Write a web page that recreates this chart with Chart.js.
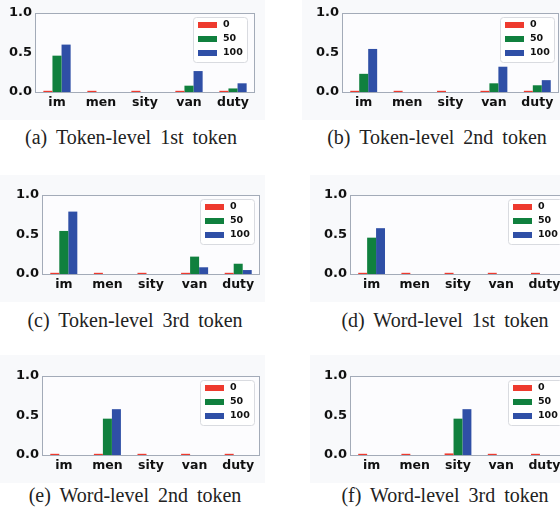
<!DOCTYPE html>
<html lang="en">
<head>
    <meta charset="UTF-8">
    <title>Token / word level bars</title>
    <script src="https://cdn.jsdelivr.net/npm/chart.js"></script>
    <style>
        body { margin: 0; width: 560px; height: 514px; overflow: hidden; background: #fff; position: relative; }
        .panel { position: absolute; background: #f8f9fb; }
        canvas { position: absolute; }
        .cap { position: absolute; font-family: "Liberation Serif", "Times New Roman", serif; font-size: 20px;
               color: #222; white-space: nowrap; transform: translate(-50%, -50%); word-spacing: 4px; }
    </style>
</head>
<body>
<script>
    const categories = ['im', 'men', 'sity', 'van', 'duty'];
    const seriesLabels = ['0', '50', '100'];
    const yTicks = [0, 0.5, 1.0];

    // (a) Token-level 1st token
    const tok1_0 = [0.015, 0.015, 0.015, 0.015, 0.015];
    const tok1_50 = [0.46, 0, 0, 0.08, 0.045];
    const tok1_100 = [0.60, 0, 0, 0.265, 0.11];
    // (b) Token-level 2nd token
    const tok2_0 = [0.015, 0.015, 0.015, 0.015, 0.015];
    const tok2_50 = [0.23, 0, 0, 0.11, 0.085];
    const tok2_100 = [0.545, 0, 0, 0.32, 0.15];
    // (c) Token-level 3rd token
    const tok3_0 = [0.015, 0.015, 0.015, 0.015, 0.015];
    const tok3_50 = [0.545, 0, 0, 0.22, 0.13];
    const tok3_100 = [0.79, 0, 0, 0.085, 0.05];
    // (d) Word-level 1st token
    const word1_0 = [0.015, 0.015, 0.015, 0.015, 0.015];
    const word1_50 = [0.46, 0, 0, 0, 0];
    const word1_100 = [0.58, 0, 0, 0, 0];
    // (e) Word-level 2nd token
    const word2_0 = [0.015, 0.015, 0.015, 0.015, 0.015];
    const word2_50 = [0, 0.46, 0, 0, 0];
    const word2_100 = [0, 0.58, 0, 0, 0];
    // (f) Word-level 3rd token
    const word3_0 = [0.015, 0.015, 0.02, 0.015, 0.015];
    const word3_50 = [0, 0, 0.46, 0, 0];
    const word3_100 = [0, 0, 0.58, 0, 0];

    const colors = ['#ee3a2e', '#10803e', '#2f4fa6'];

    // plot area boxes (left, top, right, bottom), panel boxes and caption centres
    const subplots = [
        { cap: '(a) Token-level 1st token', data: [tok1_0, tok1_50, tok1_100], plot: [35, 13, 255, 92], panel: [0, 0, 265, 120], capAt: [131, 137] },
        { cap: '(b) Token-level 2nd token', data: [tok2_0, tok2_50, tok2_100], plot: [342, 13, 559, 92], panel: [302, 0, 560, 120], capAt: [437, 137] },
        { cap: '(c) Token-level 3rd token', data: [tok3_0, tok3_50, tok3_100], plot: [42, 195, 260, 274], panel: [0, 175, 265, 302], capAt: [135, 320] },
        { cap: '(d) Word-level 1st token', data: [word1_0, word1_50, word1_100], plot: [350, 195, 566, 274], panel: [310, 175, 560, 302], capAt: [445, 320] },
        { cap: '(e) Word-level 2nd token', data: [word2_0, word2_50, word2_100], plot: [42, 376, 260, 455], panel: [0, 355, 265, 483], capAt: [135, 495] },
        { cap: '(f) Word-level 3rd token', data: [word3_0, word3_50, word3_100], plot: [350, 376, 566, 455], panel: [310, 355, 560, 483], capAt: [445, 495] }
    ];

    const YW = 40, PT = 13, XH = 24, PR = 2;

    const frame = {
        id: 'frame',
        beforeDatasetsDraw(chart) {
            const a = chart.chartArea, ctx = chart.ctx;
            ctx.save();
            ctx.fillStyle = '#fcfcfe';
            ctx.fillRect(a.left, a.top, a.right - a.left, a.bottom - a.top);
            ctx.restore();
        },
        afterDraw(chart) {
            const a = chart.chartArea, ctx = chart.ctx;
            ctx.save();
            ctx.strokeStyle = '#a3abb8';
            ctx.lineWidth = 1;
            ctx.strokeRect(Math.round(a.left) + 0.5, Math.round(a.top) + 0.5,
                Math.round(a.right - a.left) - 1, Math.round(a.bottom - a.top));
            // legend inside the axes
            const x = a.left + 158, y = a.top + 4;
            ctx.fillStyle = 'rgba(255,255,255,0.9)';
            ctx.strokeStyle = '#d9dbe0';
            ctx.beginPath();
            ctx.roundRect(x + 0.5, y + 0.5, 54, 45, 3);
            ctx.fill();
            ctx.stroke();
            ctx.font = 'bold 9.5px "DejaVu Sans"';
            ctx.textBaseline = 'middle';
            chart.data.datasets.forEach((ds, i) => {
                const cy = y + 8 + i * 14;
                ctx.fillStyle = ds.backgroundColor;
                ctx.fillRect(x + 5, cy - 3, 19, 6);
                ctx.fillStyle = '#111';
                ctx.fillText(ds.label, x + 30, cy);
            });
            ctx.restore();
        }
    };

    subplots.forEach(sp => {
        const [pl, pt, pr, pb] = sp.plot;
        const panel = document.createElement('div');
        panel.className = 'panel';
        panel.style.left = sp.panel[0] + 'px';
        panel.style.top = sp.panel[1] + 'px';
        panel.style.width = (sp.panel[2] - sp.panel[0]) + 'px';
        panel.style.height = (sp.panel[3] - sp.panel[1]) + 'px';
        document.body.appendChild(panel);

        const cv = document.createElement('canvas');
        cv.width = YW + (pr - pl) + PR;
        cv.height = PT + (pb - pt) + XH;
        cv.style.left = (pl - YW) + 'px';
        cv.style.top = (pt - PT) + 'px';
        document.body.appendChild(cv);

        const cap = document.createElement('div');
        cap.className = 'cap';
        cap.textContent = sp.cap;
        cap.style.left = sp.capAt[0] + 'px';
        cap.style.top = sp.capAt[1] + 'px';
        document.body.appendChild(cap);

        new Chart(cv.getContext('2d'), {
            type: 'bar',
            data: {
                labels: categories,
                datasets: sp.data.map((vals, i) => ({
                    label: seriesLabels[i],
                    data: vals,
                    backgroundColor: colors[i],
                    borderWidth: 0,
                    categoryPercentage: 0.62,
                    barPercentage: 1.0
                }))
            },
            options: {
                responsive: false,
                animation: false,
                layout: { padding: { top: PT, right: PR, left: 0, bottom: 0 } },
                plugins: { legend: { display: false }, tooltip: { enabled: false } },
                scales: {
                    x: {
                        offset: true,
                        grid: { display: false, drawTicks: false },
                        border: { display: false },
                        ticks: { color: '#111', padding: 3, font: { family: 'DejaVu Sans', weight: 'bold', size: 12.5 } },
                        afterFit: s => { s.height = XH; }
                    },
                    y: {
                        min: 0, max: 1,
                        afterBuildTicks: s => { s.ticks = yTicks.map(v => ({ value: v })); },
                        grid: { display: false, drawTicks: false },
                        border: { display: false },
                        ticks: { color: '#111', padding: 3, font: { family: 'DejaVu Sans', weight: 'bold', size: 13 },
                                 callback: v => v.toFixed(1) },
                        afterFit: s => { s.width = YW; }
                    }
                }
            },
            plugins: [frame]
        });
    });
</script>
</body>
</html>
